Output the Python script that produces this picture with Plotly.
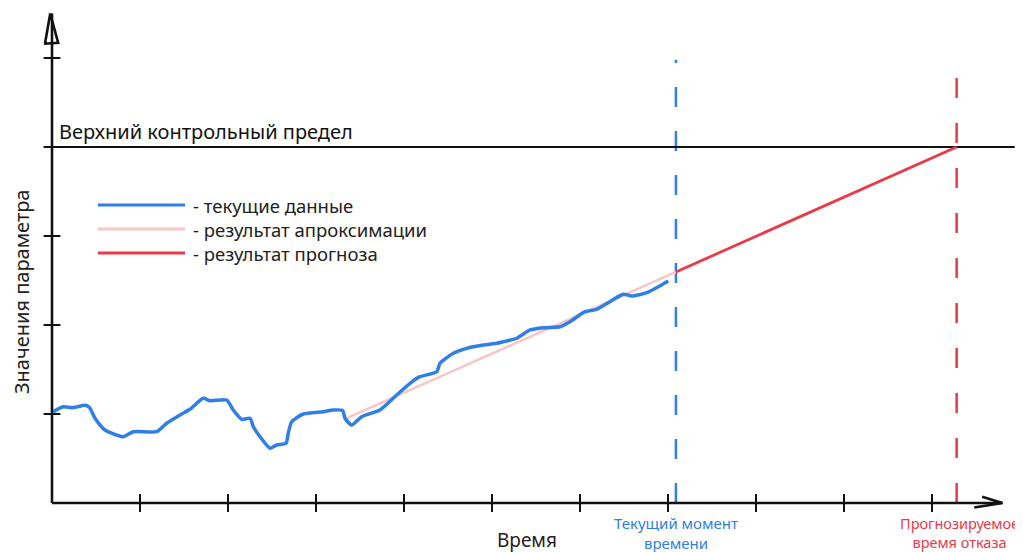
import plotly.graph_objects as go

# ---------------- data ----------------
# time in tick units, value in tick units
t_data = [0.015, 0.128, 0.239, 0.375, 0.424, 0.489, 0.602, 0.810, 0.924, 1.190,
          1.303, 1.455, 1.568, 1.719, 1.795, 1.985, 2.060, 2.156, 2.250, 2.288,
          2.364, 2.477, 2.553, 2.659, 2.685, 2.724, 2.856, 3.083, 3.197, 3.303,
          3.330, 3.406, 3.519, 3.727, 3.917, 4.068, 4.182, 4.372, 4.409, 4.560,
          4.712, 4.901, 5.053, 5.128, 5.281, 5.432, 5.583, 5.773, 5.886, 6.057,
          6.190, 6.341, 6.492, 6.588, 6.758, 6.890, 7.003]
v_data = [1.026, 1.082, 1.071, 1.098, 1.075, 0.952, 0.820, 0.745, 0.801, 0.801,
          0.896, 0.989, 1.053, 1.176, 1.149, 1.157, 1.045, 0.940, 0.952, 0.857,
          0.745, 0.615, 0.652, 0.671, 0.783, 0.913, 1.000, 1.026, 1.045, 1.039,
          0.952, 0.876, 0.970, 1.045, 1.213, 1.345, 1.419, 1.475, 1.570, 1.682,
          1.738, 1.775, 1.794, 1.812, 1.851, 1.944, 1.970, 1.981, 2.037, 2.149,
          2.176, 2.262, 2.345, 2.326, 2.363, 2.430, 2.494]

t_approx = [3.33, 7.09]
v_approx = [0.944, 2.596]
t_forecast = [7.09, 10.28]
v_forecast = [2.596, 4.0]

upper_limit = 4.0
t_now = 7.09
t_fail = 10.28
x_ticks = [1, 2, 3, 4, 5, 6, 7, 8, 9, 10]
y_ticks = [1, 2, 3, 4, 5]

legend_labels = ["- текущие данные", "- результат апроксимации", "- результат прогноза"]
limit_label = "Верхний контрольный предел"
y_title = "Значения параметра"
x_title = "Время"
now_label = "Текущий момент<br>времени"
fail_label = "Прогнозируемое<br>время отказа"

# ---------------- styles ----------------
BLUE = "#2f7fe6"
PINK = "#f7c6c6"
RED = "#ea3a48"
INK = "#111111"
TEXT = "#222222"
FONT = "Noto Sans"

SW, SH = 1023, 552       # browser window
OFF = 8                  # page body margin
W, H = SW - OFF, SH - OFF

# screen pixel mapping: x_px = 52 + 88*t ; y_px = 503 - 89*v
XR = [(OFF - 52) / 88, (SW - 52) / 88]
YR = [(503 - SH) / 89, (503 - OFF) / 89]


def px(x):  # screen x -> paper
    return (x - OFF) / W


def py(y):  # screen y -> paper
    return 1 - (y - OFF) / H


fig = go.Figure()

# vertical dashed markers
fig.add_trace(go.Scatter(x=[t_now, t_now], y=[0, 4.98], mode="lines",
                         line=dict(color=BLUE, width=2.5, dash="20px,24px"),
                         hoverinfo="skip", showlegend=False))
fig.add_trace(go.Scatter(x=[t_fail, t_fail], y=[0, 5.0], mode="lines",
                         line=dict(color=RED, width=2.5, dash="20px,25px"),
                         hoverinfo="skip", showlegend=False))

# upper control limit
fig.add_trace(go.Scatter(x=[0, 10.94], y=[upper_limit, upper_limit], mode="lines",
                         line=dict(color=INK, width=2.2), hoverinfo="skip", showlegend=False))

# approximation and forecast
fig.add_trace(go.Scatter(x=t_approx, y=v_approx, mode="lines",
                         line=dict(color=PINK, width=2.5), showlegend=False))
fig.add_trace(go.Scatter(x=t_forecast, y=v_forecast, mode="lines",
                         line=dict(color=RED, width=2.8), showlegend=False))
# current data
fig.add_trace(go.Scatter(x=t_data, y=v_data, mode="lines",
                         line=dict(color=BLUE, width=3.5, shape="spline", smoothing=0.6),
                         showlegend=False))

# axes (hand-drawn style)
fig.add_trace(go.Scatter(x=[0, 10.8], y=[0, 0], mode="lines",
                         line=dict(color=INK, width=2.6), hoverinfo="skip", showlegend=False))
fig.add_trace(go.Scatter(x=[0, 0], y=[0, 5.5], mode="lines",
                         line=dict(color=INK, width=2.6), hoverinfo="skip", showlegend=False))
fig.add_trace(go.Scatter(x=x_ticks, y=[0] * len(x_ticks), mode="markers",
                         marker=dict(symbol="line-ns", size=13, line=dict(color=INK, width=2)),
                         hoverinfo="skip", showlegend=False))
fig.add_trace(go.Scatter(x=[0] * len(y_ticks), y=y_ticks, mode="markers",
                         marker=dict(symbol="line-ew", size=12, line=dict(color=INK, width=2)),
                         hoverinfo="skip", showlegend=False))
# arrow heads
fig.add_trace(go.Scatter(x=[10.57, 10.8, 10.48], y=[0.07, 0.0, -0.05], mode="lines",
                         line=dict(color=INK, width=2.6), hoverinfo="skip", showlegend=False))
fig.add_trace(go.Scatter(x=[-0.08, -0.02, 0.07, -0.09], y=[5.16, 5.5, 5.17, 5.16], mode="lines",
                         line=dict(color=INK, width=2.6), hoverinfo="skip", showlegend=False))

shapes = []
annotations = []

# custom legend: line samples + one multi-line text block
leg_colors = [BLUE, PINK, RED]
leg_y = [205, 229, 253]
for col, yp in zip(leg_colors, leg_y):
    shapes.append(dict(type="line", xref="paper", yref="paper",
                       x0=px(98), x1=px(185), y0=py(yp), y1=py(yp),
                       line=dict(color=col, width=3)))
annotations.append(dict(text="<br>".join(legend_labels), xref="paper", yref="paper",
                        x=px(191), y=py(leg_y[1]), align="left",
                        xanchor="left", yanchor="middle", showarrow=False,
                        font=dict(family=FONT, size=18.5, color=TEXT)))

annotations.append(dict(text=limit_label, x=0.06, y=upper_limit, xref="x", yref="y",
                        xanchor="left", yanchor="bottom", yshift=0, showarrow=False,
                        font=dict(family=FONT, size=20, color=INK)))
annotations.append(dict(text=y_title, xref="paper", yref="paper", x=px(21), y=py(292),
                        textangle=-90, showarrow=False, xanchor="center", yanchor="middle",
                        font=dict(family=FONT, size=20, color=TEXT)))
annotations.append(dict(text=x_title, xref="paper", yref="paper", x=px(527), y=py(540),
                        showarrow=False, xanchor="center", yanchor="middle",
                        font=dict(family=FONT, size=19, color=TEXT)))
annotations.append(dict(text=now_label, x=px(676), xref="paper", yref="paper", y=py(511),
                        showarrow=False, xanchor="center", yanchor="top",
                        font=dict(family=FONT, size=15, color=BLUE)))
annotations.append(dict(text=fail_label, x=px(959), xref="paper", yref="paper", y=py(511),
                        showarrow=False, xanchor="center", yanchor="top",
                        font=dict(family=FONT, size=14.5, color=RED)))

fig.update_layout(
    width=W, height=H,
    margin=dict(l=0, r=0, t=0, b=0),
    paper_bgcolor="white", plot_bgcolor="white",
    xaxis=dict(range=XR, visible=False, fixedrange=True),
    yaxis=dict(range=YR, visible=False, fixedrange=True),
    shapes=shapes, annotations=annotations,
    showlegend=False,
)

fig.write_html("out.html")
